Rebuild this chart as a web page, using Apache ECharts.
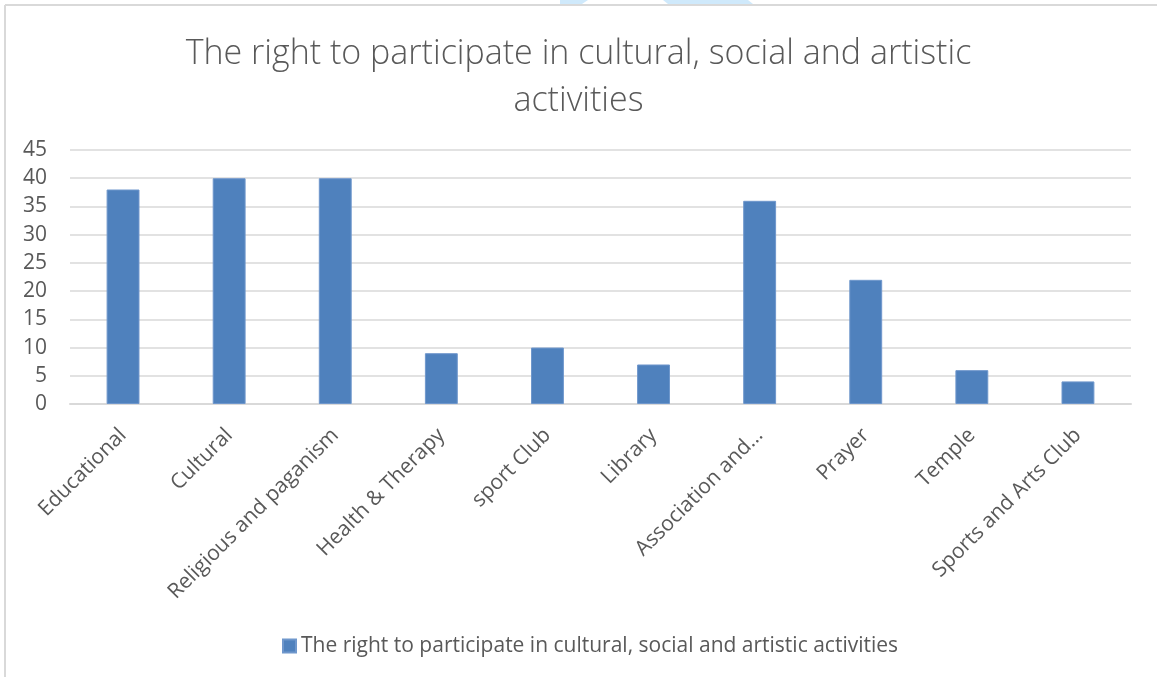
<!DOCTYPE html>
<html>
<head>
<meta charset="utf-8">
<script src="https://cdn.jsdelivr.net/npm/echarts@6/dist/echarts.min.js"></script>
<style>
  html, body { margin: 0; padding: 0; background: #ffffff; }
  #chart { width: 1157px; height: 677px; }
</style>
</head>
<body>
<div id="chart"></div>
<script>
// Categories and counts for the column chart
const categories = [
  'Educational', 'Cultural', 'Religious and paganism', 'Health & Therapy',
  'sport Club', 'Library', 'Association and…', 'Prayer', 'Temple', 'Sports and Arts Club'
];
const seriesName = 'The right to participate in cultural, social and artistic activities';
const values = [38, 40, 40, 9, 10, 7, 36, 22, 6, 4];
const titleLines = ['The right to participate in cultural, social and artistic', 'activities'];

const FONT = '"Open Sans", "Noto Sans", sans-serif';
const TEXT = '#595959';
const GRID = '#d9d9d9';
const BAR = '#4f81bd';

const chart = echarts.init(document.getElementById('chart'), null, { renderer: 'canvas' });
chart.setOption({
  animation: false,
  backgroundColor: '#ffffff',
  title: {
    text: titleLines.join('\n'),
    left: 'center',
    top: 26,
    textStyle: {
      fontFamily: FONT,
      fontWeight: 300,
      fontSize: 34,
      lineHeight: 47,
      color: TEXT
    }
  },
  legend: {
    top: 630,
    left: 277,
    itemWidth: 13,
    itemHeight: 13,
    icon: 'rect',
    textStyle: { fontFamily: FONT, fontSize: 21, lineHeight: 22, color: TEXT },
    data: [seriesName]
  },
  grid: { left: 70, right: 26, top: 150, bottom: 273, containLabel: false },
  xAxis: {
    type: 'category',
    data: categories,
    axisLine: { lineStyle: { color: GRID, width: 2 } },
    axisTick: { show: false },
    axisLabel: {
      rotate: 45,
      interval: 0,
      margin: 28,
      fontFamily: FONT,
      fontSize: 21,
      color: TEXT
    }
  },
  yAxis: {
    type: 'value',
    min: 0,
    max: 45,
    interval: 5,
    axisLine: { show: false },
    axisTick: { show: false },
    splitLine: { lineStyle: { color: GRID, width: 1.5 } },
    axisLabel: {
      margin: 23,
      fontFamily: FONT,
      fontSize: 21,
      color: TEXT
    }
  },
  series: [{
    name: seriesName,
    type: 'bar',
    data: values,
    barWidth: '31%',
    itemStyle: { color: BAR, borderColor: '#6f97cc', borderWidth: 1 }
  }],
  graphic: [
    { type: 'polygon', shape: { points: [[560, 0], [588, 0], [582, 4], [560, 4]] }, style: { fill: '#cfe9fb' }, silent: true },
    { type: 'polygon', shape: { points: [[663, 0], [748, 0], [753, 4], [668, 4]] }, style: { fill: '#cfe9fb' }, silent: true },
    { type: 'line', shape: { x1: 5, y1: 5, x2: 1157, y2: 5 }, style: { stroke: GRID, lineWidth: 2 }, silent: true },
    { type: 'line', shape: { x1: 5, y1: 5, x2: 5, y2: 677 }, style: { stroke: GRID, lineWidth: 2 }, silent: true }
  ]
});
</script>
</body>
</html>
